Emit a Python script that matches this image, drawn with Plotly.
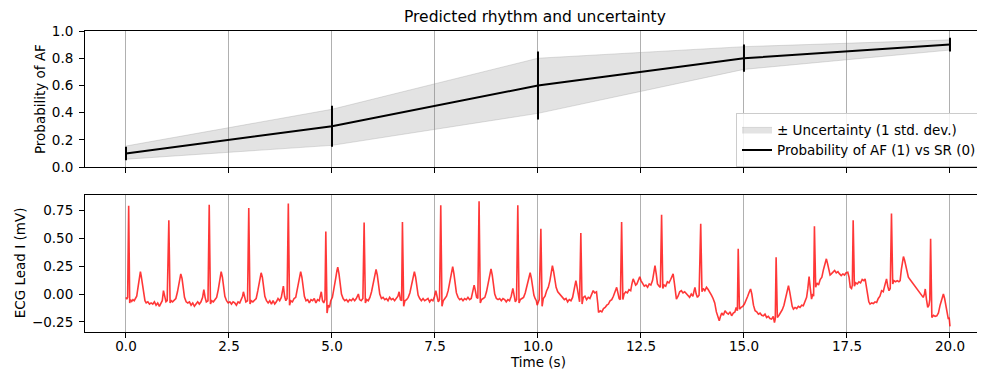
import plotly.graph_objects as go

# ---------------- data ----------------
pred_t = [0, 5, 10, 15, 20]
pred_p = [0.10, 0.30, 0.60, 0.80, 0.90]
pred_err = [0.05, 0.15, 0.25, 0.10, 0.05]
band_upper = [0.155, 0.425, 0.80, 0.885, 0.935]
band_lower = [0.058, 0.160, 0.395, 0.718, 0.860]

# ECG lead I samples (time in s), one line per beat
ecg_t = [
    0.00, 0.02, 0.04, 0.065, 0.09, 0.11, 0.14, 0.17, 0.20, 0.23, 0.26, 0.30, 0.33, 0.35, 0.37, 0.40, 0.43, 0.46, 0.49, 0.53, 0.57, 0.61, 0.65, 0.69, 0.73, 0.77, 0.81, 0.85, 0.88, 0.91, 0.94, 0.97, 1.00,
    1.04, 1.07, 1.10, 1.13, 1.17, 1.21, 1.25, 1.29, 1.33, 1.36, 1.39, 1.42, 1.46, 1.50, 1.54, 1.58, 1.62, 1.66, 1.70, 1.74, 1.78, 1.82, 1.86, 1.89, 1.92, 1.95, 1.99,
    2.02, 2.05, 2.08, 2.12, 2.16, 2.20, 2.24, 2.28, 2.31, 2.34, 2.37, 2.40, 2.44, 2.48, 2.52, 2.56, 2.60, 2.64, 2.68, 2.72, 2.76, 2.80, 2.83, 2.85, 2.88, 2.91, 2.95,
    2.98, 3.01, 3.04, 3.08, 3.12, 3.16, 3.20, 3.24, 3.28, 3.31, 3.34, 3.37, 3.41, 3.45, 3.49, 3.53, 3.57, 3.61, 3.65, 3.69, 3.73, 3.77, 3.80, 3.82, 3.85, 3.88, 3.91,
    3.94, 3.97, 4.00, 4.04, 4.08, 4.12, 4.16, 4.20, 4.24, 4.27, 4.30, 4.33, 4.37, 4.41, 4.45, 4.49, 4.53, 4.57, 4.61, 4.65, 4.69, 4.72, 4.74, 4.77, 4.80, 4.83,
    4.85, 4.88, 4.91, 4.94, 4.97, 5.01, 5.05, 5.09, 5.12, 5.14, 5.17, 5.20, 5.23, 5.27, 5.31, 5.35, 5.39, 5.43, 5.47, 5.51, 5.55, 5.59, 5.62, 5.64, 5.67, 5.71, 5.75,
    5.78, 5.81, 5.84, 5.88, 5.92, 5.96, 6.00, 6.04, 6.07, 6.10, 6.13, 6.16, 6.20, 6.24, 6.28, 6.32, 6.36, 6.40, 6.44, 6.48, 6.52, 6.56, 6.60, 6.63, 6.66, 6.69,
    6.71, 6.74, 6.77, 6.81, 6.85, 6.89, 6.93, 6.97, 7.00, 7.03, 7.06, 7.09, 7.13, 7.17, 7.21, 7.25, 7.29, 7.33, 7.37, 7.41, 7.45, 7.49, 7.52, 7.55, 7.58, 7.61,
    7.64, 7.67, 7.70, 7.74, 7.78, 7.82, 7.86, 7.90, 7.93, 7.96, 7.99, 8.02, 8.06, 8.10, 8.14, 8.18, 8.22, 8.26, 8.30, 8.34, 8.38, 8.42, 8.45, 8.48, 8.51, 8.54,
    8.57, 8.60, 8.63, 8.67, 8.71, 8.75, 8.79, 8.83, 8.86, 8.89, 8.92, 8.95, 8.99, 9.03, 9.07, 9.11, 9.15, 9.19, 9.23, 9.27, 9.31, 9.35, 9.39, 9.42, 9.45, 9.48,
    9.51, 9.54, 9.57, 9.61, 9.65, 9.69, 9.73, 9.77, 9.81, 9.84, 9.87, 9.90, 9.93, 9.96, 9.98, 10.00, 10.03,
    10.07, 10.10, 10.13, 10.17, 10.21, 10.25, 10.29, 10.32, 10.35, 10.38, 10.41, 10.44, 10.48, 10.52, 10.56, 10.60, 10.64, 10.68, 10.72, 10.76, 10.80, 10.84, 10.88, 10.92, 10.95, 10.98, 11.01,
    11.04, 11.07, 11.10, 11.14, 11.18, 11.22, 11.26, 11.30, 11.34, 11.38, 11.42, 11.45, 11.47, 11.51, 11.55, 11.59, 11.63, 11.67, 11.71, 11.75, 11.79, 11.83, 11.87, 11.91, 11.94, 11.97, 12.00,
    12.03, 12.06, 12.09, 12.13, 12.17, 12.21, 12.25, 12.28, 12.31, 12.34, 12.37, 12.40, 12.44, 12.47, 12.50, 12.54, 12.58, 12.62, 12.66, 12.70, 12.74, 12.78, 12.81, 12.84, 12.87, 12.90, 12.94, 12.97,
    13.00, 13.03, 13.06, 13.10, 13.14, 13.18, 13.22, 13.25, 13.28, 13.31, 13.34, 13.36, 13.40, 13.44, 13.48, 13.52, 13.56, 13.60, 13.64, 13.68, 13.72, 13.76, 13.79, 13.81, 13.84, 13.87, 13.91,
    13.95, 13.98, 14.01, 14.05, 14.09, 14.13, 14.17, 14.21, 14.25, 14.29, 14.33, 14.37, 14.40, 14.43, 14.46, 14.50, 14.54, 14.58, 14.62, 14.66, 14.70, 14.74, 14.78, 14.81, 14.84,
    14.86, 14.89, 14.93, 14.97, 15.01, 15.05, 15.09, 15.13, 15.16, 15.19, 15.23, 15.27, 15.31, 15.35, 15.39, 15.43, 15.47, 15.51, 15.55, 15.59, 15.63, 15.67, 15.71, 15.74, 15.76,
    15.78, 15.81, 15.85, 15.89, 15.93, 15.97, 16.01, 16.05, 16.08, 16.11, 16.14, 16.17, 16.20, 16.24, 16.28, 16.32, 16.36, 16.40, 16.44, 16.48, 16.52, 16.55, 16.58, 16.61, 16.64, 16.67, 16.69,
    16.71, 16.74, 16.77, 16.81, 16.85, 16.89, 16.93, 16.97, 17.00, 17.03, 17.06, 17.09, 17.12, 17.16, 17.20, 17.24, 17.28, 17.32, 17.36, 17.40, 17.44, 17.48, 17.52, 17.55, 17.58, 17.61, 17.63,
    17.65, 17.68, 17.71, 17.75, 17.79, 17.83, 17.87, 17.91, 17.94, 17.97, 18.00, 18.03, 18.06, 18.10, 18.14, 18.18, 18.22, 18.26, 18.30, 18.34, 18.38, 18.42, 18.46, 18.49, 18.52, 18.55,
    18.58, 18.61, 18.64, 18.68, 18.72, 18.76, 18.79, 18.82, 18.85, 18.87, 18.90, 18.93, 18.96, 18.99, 19.03, 19.07, 19.11, 19.15, 19.19, 19.23, 19.27, 19.31, 19.35, 19.38, 19.40, 19.43, 19.46, 19.49, 19.51,
    19.53, 19.56, 19.60, 19.64, 19.68, 19.72, 19.76, 19.80, 19.84, 19.87, 19.90, 19.93, 19.96, 19.98, 20.00,
]
# ECG lead I amplitude (mV), one line per beat
ecg_mv = [
    -0.03, -0.045, -0.03, 0.79, -0.08, -0.05, -0.065, -0.05, -0.06, -0.04, -0.02, 0.08, 0.17, 0.20, 0.16, 0.07, -0.02, -0.06, -0.08, -0.07, -0.09, -0.08, -0.09, -0.07, -0.10, -0.08, -0.11, -0.08, -0.06, 0.03, -0.02, -0.07, -0.06,
    0.66, -0.08, -0.06, -0.07, -0.05, -0.04, 0.02, 0.10, 0.18, 0.14, 0.05, -0.03, -0.07, -0.08, -0.07, -0.10, -0.08, -0.11, -0.09, -0.07, -0.09, -0.07, -0.03, 0.04, -0.03, -0.07, -0.06,
    0.80, -0.09, -0.06, -0.07, -0.05, -0.03, 0.04, 0.14, 0.20, 0.15, 0.06, -0.02, -0.06, -0.08, -0.07, -0.09, -0.07, -0.08, -0.10, -0.07, -0.08, -0.05, -0.02, 0.02, -0.04, -0.07, -0.06,
    0.77, -0.09, -0.06, -0.07, -0.05, -0.04, 0.03, 0.12, 0.19, 0.15, 0.06, -0.02, -0.06, -0.08, -0.06, -0.09, -0.06, -0.09, -0.07, -0.04, -0.06, -0.03, 0.03, 0.07, -0.02, -0.06, -0.04,
    0.81, -0.10, -0.06, -0.07, -0.04, -0.03, 0.04, 0.13, 0.20, 0.15, 0.06, -0.02, -0.06, -0.05, -0.08, -0.05, -0.06, -0.04, -0.08, -0.05, -0.06, 0.00, 0.02, -0.06, -0.08, -0.05,
    0.56, -0.17, -0.10, -0.12, -0.06, -0.03, 0.04, 0.14, 0.21, 0.24, 0.18, 0.08, 0.00, -0.04, -0.06, -0.05, -0.07, -0.05, -0.06, -0.04, -0.06, -0.04, -0.01, 0.00, -0.05, -0.06, -0.04,
    0.64, -0.08, -0.05, -0.06, -0.03, 0.02, 0.09, 0.18, 0.22, 0.17, 0.07, 0.00, -0.04, -0.03, -0.05, -0.04, -0.06, -0.03, -0.05, -0.04, -0.06, -0.04, -0.02, 0.02, -0.05, -0.06,
    0.645, -0.11, -0.06, -0.05, -0.03, 0.01, 0.08, 0.16, 0.20, 0.15, 0.06, -0.01, -0.04, -0.06, -0.04, -0.06, -0.05, -0.04, -0.07, -0.05, -0.06, -0.02, 0.03, -0.04, -0.07, -0.05,
    0.795, -0.11, -0.06, -0.04, -0.02, 0.03, 0.11, 0.20, 0.245, 0.18, 0.09, 0.01, -0.03, -0.05, -0.04, -0.06, -0.04, -0.05, -0.03, -0.05, -0.04, 0.02, 0.08, 0.03, -0.03, -0.04,
    0.83, -0.08, -0.05, -0.04, -0.03, 0.02, 0.09, 0.18, 0.225, 0.17, 0.07, 0.00, -0.04, -0.05, -0.04, -0.06, -0.04, -0.05, -0.07, -0.05, -0.06, -0.02, 0.05, -0.02, -0.07, -0.05,
    0.795, -0.08, -0.05, -0.04, -0.03, 0.01, 0.07, 0.15, 0.19, 0.14, 0.06, -0.01, -0.04, -0.06, -0.10, -0.07, -0.05,
    0.585, -0.11, -0.04, -0.02, 0.03, 0.06, 0.12, 0.20, 0.255, 0.20, 0.11, 0.06, 0.02, 0.00, -0.02, -0.03, -0.05, -0.04, -0.07, -0.05, -0.06, -0.03, 0.04, 0.12, 0.06, -0.03, -0.07,
    0.546, -0.09, -0.03, -0.02, -0.05, -0.03, -0.04, -0.01, 0.03, 0.01, 0.02, -0.08, -0.165, -0.15, -0.16, -0.13, -0.12, -0.10, -0.09, -0.06, -0.05, -0.02, 0.02, 0.06, 0.01, -0.04, -0.05,
    0.645, -0.05, 0.00, 0.02, 0.01, 0.04, 0.03, 0.09, 0.135, 0.11, 0.08, 0.09, 0.12, 0.155, 0.12, 0.09, 0.07, 0.08, 0.06, 0.09, 0.08, 0.12, 0.20, 0.255, 0.18, 0.09, 0.07, 0.06,
    0.71, 0.05, 0.08, 0.07, 0.11, 0.10, 0.13, 0.16, 0.18, 0.10, 0.00, -0.045, -0.02, 0.02, 0.03, 0.01, 0.02, 0.00, -0.01, -0.03, 0.00, -0.02, 0.03, 0.06, 0.00, -0.03, -0.01,
    0.63, 0.02, 0.05, 0.03, 0.06, 0.04, 0.02, -0.01, -0.04, -0.08, -0.16, -0.22, -0.24, -0.20, -0.17, -0.19, -0.15, -0.17, -0.18, -0.16, -0.195, -0.17, -0.16, -0.12, -0.15,
    0.405, -0.135, -0.12, -0.11, -0.09, -0.06, -0.02, 0.02, 0.045, 0.00, -0.10, -0.15, -0.16, -0.18, -0.17, -0.19, -0.195, -0.18, -0.21, -0.20, -0.22, -0.225, -0.20, -0.255, -0.22,
    0.33, -0.21, -0.19, -0.17, -0.14, -0.10, -0.04, 0.03, 0.075, 0.02, -0.05, -0.11, -0.135, -0.12, -0.13, -0.11, -0.12, -0.10, -0.105, -0.07, -0.03, 0.05, 0.155, 0.05, -0.045, 0.00, -0.02,
    0.606, 0.06, 0.10, 0.08, 0.13, 0.15, 0.22, 0.28, 0.315, 0.27, 0.20, 0.17, 0.18, 0.20, 0.21, 0.19, 0.20, 0.18, 0.165, 0.18, 0.17, 0.19, 0.195, 0.15, 0.06, 0.05, 0.08,
    0.66, 0.07, 0.10, 0.09, 0.11, 0.10, 0.13, 0.12, 0.135, 0.08, 0.00, -0.07, -0.09, -0.08, -0.085, -0.07, -0.075, -0.04, -0.02, 0.03, 0.02, 0.08, 0.135, 0.07, 0.03, 0.05,
    0.72, 0.09, 0.12, 0.11, 0.12, 0.11, 0.12, 0.22, 0.31, 0.335, 0.30, 0.24, 0.18, 0.15, 0.13, 0.11, 0.09, 0.07, 0.06, 0.03, 0.02, -0.01, -0.03, 0.00, 0.045, -0.05, -0.12, -0.10, -0.05,
    0.495, -0.21, -0.19, -0.20, -0.195, -0.17, -0.10, -0.04, 0.00, -0.04, -0.10, -0.18, -0.225, -0.21, -0.29,
]
assert len(ecg_t) == len(ecg_mv), (len(ecg_t), len(ecg_mv))

x_ticks = [0, 2.5, 5, 7.5, 10, 12.5, 15, 17.5, 20]
x_tick_labels = ["0.0", "2.5", "5.0", "7.5", "10.0", "12.5", "15.0", "17.5", "20.0"]
p_ticks = [0.0, 0.2, 0.4, 0.6, 0.8, 1.0]
p_tick_labels = ["0.0", "0.2", "0.4", "0.6", "0.8", "1.0"]
ecg_ticks = [-0.25, 0.0, 0.25, 0.5, 0.75]
ecg_tick_labels = ["\u22120.25", "0.00", "0.25", "0.50", "0.75"]

# ---------------- figure ----------------
FONT = "DejaVu Sans"
fig = go.Figure()

fig.add_trace(go.Scatter(
    x=pred_t, y=band_upper, mode="lines",
    line=dict(color="rgba(150,150,150,0.3)", width=1),
    showlegend=False, hoverinfo="skip", xaxis="x", yaxis="y"))
fig.add_trace(go.Scatter(
    x=pred_t, y=band_lower, mode="lines", fill="tonexty",
    fillcolor="rgba(128,128,128,0.22)",
    line=dict(color="rgba(150,150,150,0.3)", width=1),
    name="\u00b1 Uncertainty (1 std. dev.)", xaxis="x", yaxis="y"))
fig.add_trace(go.Scatter(
    x=pred_t, y=pred_p, mode="lines",
    line=dict(color="black", width=2),
    error_y=dict(type="data", array=pred_err, color="black", thickness=2, width=0),
    name="Probability of AF (1) vs SR (0)", xaxis="x", yaxis="y"))

fig.add_trace(go.Scatter(
    x=ecg_t, y=ecg_mv, mode="lines",
    line=dict(color="rgba(255,20,20,0.85)", width=1.6),
    showlegend=False, xaxis="x2", yaxis="y2"))

x_range = [-0.995, 20.85]
common_x = dict(
    range=x_range, tickvals=x_ticks, ticktext=x_tick_labels,
    showgrid=True, gridcolor="#b0b0b0", gridwidth=0.8,
    showline=True, linecolor="black", linewidth=1, mirror=True,
    ticks="outside", ticklen=5, tickcolor="black", tickwidth=1,
    zeroline=False, tickfont=dict(family=FONT, size=13.5, color="black"),
)
common_y = dict(
    showgrid=False, showline=True, linecolor="black", linewidth=1, mirror=False,
    ticks="outside", ticklen=5, tickcolor="black", tickwidth=1,
    zeroline=False, tickfont=dict(family=FONT, size=13.5, color="black"),
    ticklabelstandoff=3,
)

# The page body adds an 8px offset; lay out in reference pixel coords minus 8.
OFF = 8
W, H = 985 - OFF, 371 - OFF
ML, MR, MT = 85 - OFF, 0, 31 - OFF
MB = H - (331.7 - OFF)
PH = H - MT - MB
PW = W - ML - MR

def py(ref_px):
    return (H - MB - (ref_px - OFF)) / PH

def pxx(ref_px):
    return ((ref_px - OFF) - ML) / PW

fig.update_layout(
    width=W, height=H,
    margin=dict(l=ML, r=MR, t=MT, b=MB, autoexpand=False),
    paper_bgcolor="white", plot_bgcolor="white",
    font=dict(family=FONT, size=13.5, color="black"),
    xaxis=dict(common_x, anchor="y", showticklabels=False),
    yaxis=dict(common_y, domain=[py(167), 1.0], range=[0, 1],
               tickvals=p_ticks, ticktext=p_tick_labels),
    xaxis2=dict(common_x, anchor="y2", ticklabelstandoff=-3),
    yaxis2=dict(common_y, domain=[0, py(195)], range=[-0.34, 0.885],
                tickvals=ecg_ticks, ticktext=ecg_tick_labels),
    legend=dict(
        x=pxx(982), y=py(167), xanchor="right", yanchor="bottom",
        bgcolor="rgba(255,255,255,0.85)", bordercolor="#cccccc", borderwidth=1,
        font=dict(family=FONT, size=13.5, color="black"),
        traceorder="normal", tracegroupgap=0, itemwidth=30,
    ),
    showlegend=True,
    annotations=[
        dict(text="Predicted rhythm and uncertainty", x=pxx(535), y=py(17), xref="paper", yref="paper",
             xanchor="center", yanchor="middle", showarrow=False,
             font=dict(family=FONT, size=15.5, color="black")),
        dict(text="Probability of AF", x=pxx(40), y=py(99), xref="paper", yref="paper",
             xanchor="center", yanchor="middle", textangle=-90, showarrow=False,
             font=dict(family=FONT, size=13.5, color="black")),
        dict(text="ECG Lead I (mV)", x=pxx(20), y=py(263), xref="paper", yref="paper",
             xanchor="center", yanchor="middle", textangle=-90, showarrow=False,
             font=dict(family=FONT, size=13.5, color="black")),
        dict(text="Time (s)", x=pxx(538), y=py(362), xref="paper", yref="paper",
             xanchor="center", yanchor="middle", showarrow=False,
             font=dict(family=FONT, size=13.5, color="black")),
    ],
)

fig.write_html("out.html")
